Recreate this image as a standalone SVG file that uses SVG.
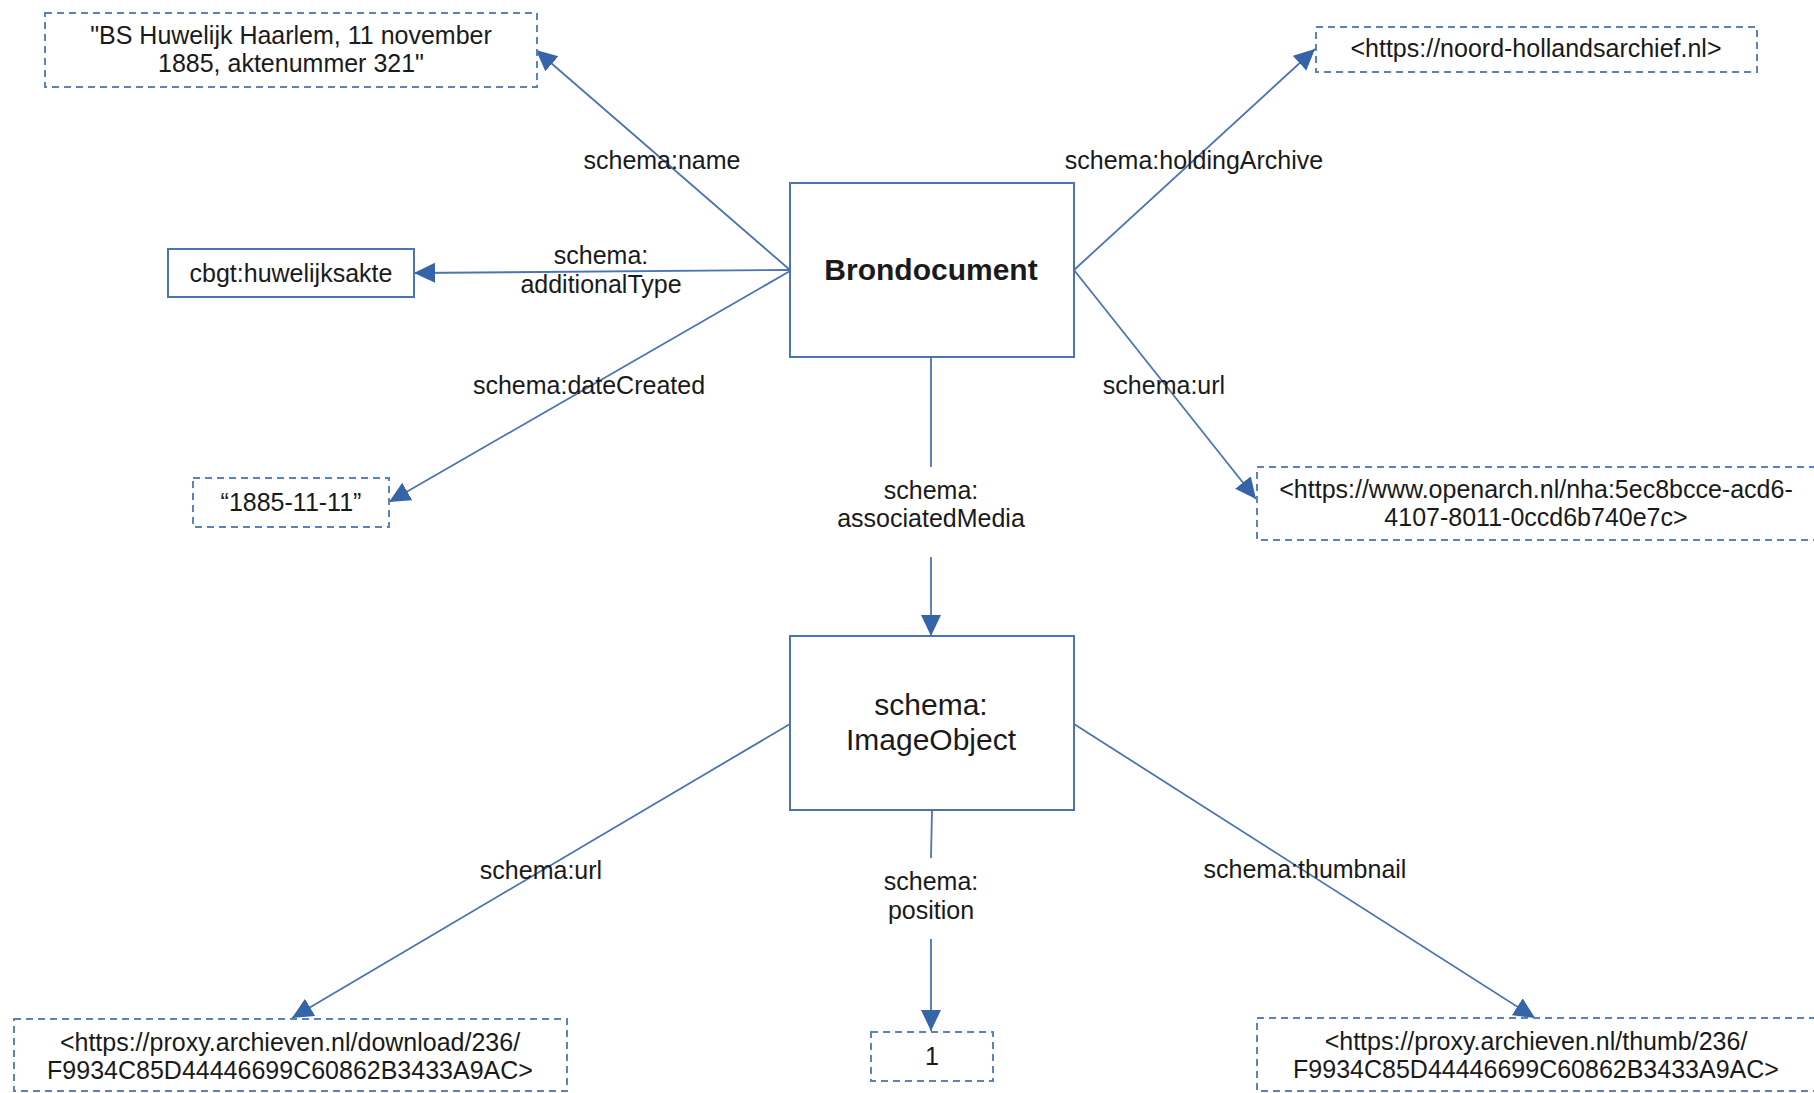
<svg xmlns="http://www.w3.org/2000/svg" width="1814" height="1093" viewBox="0 0 1814 1093">
<style>
.box{fill:#fff;stroke:#4a74b3;stroke-width:2}
.lit{fill:#fff;stroke:#5a82bd;stroke-width:2;stroke-dasharray:7 5}
.t{font-family:"Liberation Sans",Arial,sans-serif;font-size:25px;fill:#1a1a1a;text-anchor:middle}
.big{font-size:30px}
.bold{font-weight:bold}
.ln{fill:none;stroke:#4a74b3;stroke-width:1.8}
</style>
<defs>
<marker id="ah" markerUnits="userSpaceOnUse" markerWidth="24" markerHeight="22" refX="21" refY="10" orient="auto" viewBox="0 0 24 22">
<path d="M0,0 L21,10 L0,20 Z" fill="#3565a8"/>
</marker>
</defs>
<rect width="1814" height="1093" fill="#fff"/>
<g id="connectors">
<line class="ln" x1="790" y1="270" x2="536" y2="50" marker-end="url(#ah)"/>
<line class="ln" x1="790" y1="270" x2="414" y2="273" marker-end="url(#ah)"/>
<line class="ln" x1="790" y1="271" x2="389" y2="502" marker-end="url(#ah)"/>
<line class="ln" x1="1074" y1="270" x2="1315" y2="49" marker-end="url(#ah)"/>
<line class="ln" x1="1074" y1="270" x2="1256" y2="499" marker-end="url(#ah)"/>
<line class="ln" x1="931" y1="357" x2="931" y2="467"/>
<line class="ln" x1="931" y1="557" x2="931" y2="636" marker-end="url(#ah)"/>
<line class="ln" x1="790" y1="724" x2="292" y2="1018" marker-end="url(#ah)"/>
<line class="ln" x1="1074" y1="724" x2="1535" y2="1018" marker-end="url(#ah)"/>
<line class="ln" x1="932" y1="810" x2="931" y2="858"/>
<line class="ln" x1="931" y1="939" x2="931" y2="1031" marker-end="url(#ah)"/>
<text class="t" x="662" y="169">schema:name</text>
<text class="t" x="601" y="264">schema:</text>
<text class="t" x="601" y="293">additionalType</text>
<text class="t" x="589" y="394">schema:dateCreated</text>
<text class="t" x="1194" y="169">schema:holdingArchive</text>
<text class="t" x="1164" y="394">schema:url</text>
<text class="t" x="931" y="499">schema:</text>
<text class="t" x="931" y="527">associatedMedia</text>
<text class="t" x="541" y="879">schema:url</text>
<text class="t" x="1305" y="878">schema:thumbnail</text>
<text class="t" x="931" y="890">schema:</text>
<text class="t" x="931" y="919">position</text>
</g>
<g id="name-literal">
<rect class="lit" x="45" y="13" width="492" height="74"/>
<text class="t" x="291" y="44">"BS Huwelijk Haarlem, 11 november</text>
<text class="t" x="291" y="72">1885, aktenummer 321"</text>
</g>
<g id="huwelijksakte">
<rect class="box" x="168" y="249" width="246" height="48"/>
<text class="t" x="291" y="282">cbgt:huwelijksakte</text>
</g>
<g id="date-literal">
<rect class="lit" x="193" y="478" width="196" height="49"/>
<text class="t" x="291" y="511">“1885-11-11”</text>
</g>
<g id="brondocument">
<rect class="box" x="790" y="183" width="284" height="174"/>
<text class="t big bold" x="931" y="280">Brondocument</text>
</g>
<g id="holding-archive">
<rect class="lit" x="1316" y="27" width="441" height="45"/>
<text class="t" x="1536" y="57">&lt;https://noord-hollandsarchief.nl&gt;</text>
</g>
<g id="openarch-url">
<rect class="lit" x="1257" y="467" width="563" height="73"/>
<text class="t" x="1536" y="498">&lt;https://www.openarch.nl/nha:5ec8bcce-acd6-</text>
<text class="t" x="1536" y="526">4107-8011-0ccd6b740e7c&gt;</text>
</g>
<g id="image-object">
<rect class="box" x="790" y="636" width="284" height="174"/>
<text class="t big" x="931" y="715">schema:</text>
<text class="t big" x="931" y="750">ImageObject</text>
</g>
<g id="download-url">
<rect class="lit" x="14" y="1019" width="553" height="72"/>
<text class="t" x="290" y="1051">&lt;https://proxy.archieven.nl/download/236/</text>
<text class="t" x="290" y="1079">F9934C85D44446699C60862B3433A9AC&gt;</text>
</g>
<g id="position-literal">
<rect class="lit" x="871" y="1032" width="122" height="49"/>
<text class="t" x="932" y="1065">1</text>
</g>
<g id="thumb-url">
<rect class="lit" x="1257" y="1018" width="563" height="73"/>
<text class="t" x="1536" y="1050">&lt;https://proxy.archieven.nl/thumb/236/</text>
<text class="t" x="1536" y="1078">F9934C85D44446699C60862B3433A9AC&gt;</text>
</g>
</svg>
